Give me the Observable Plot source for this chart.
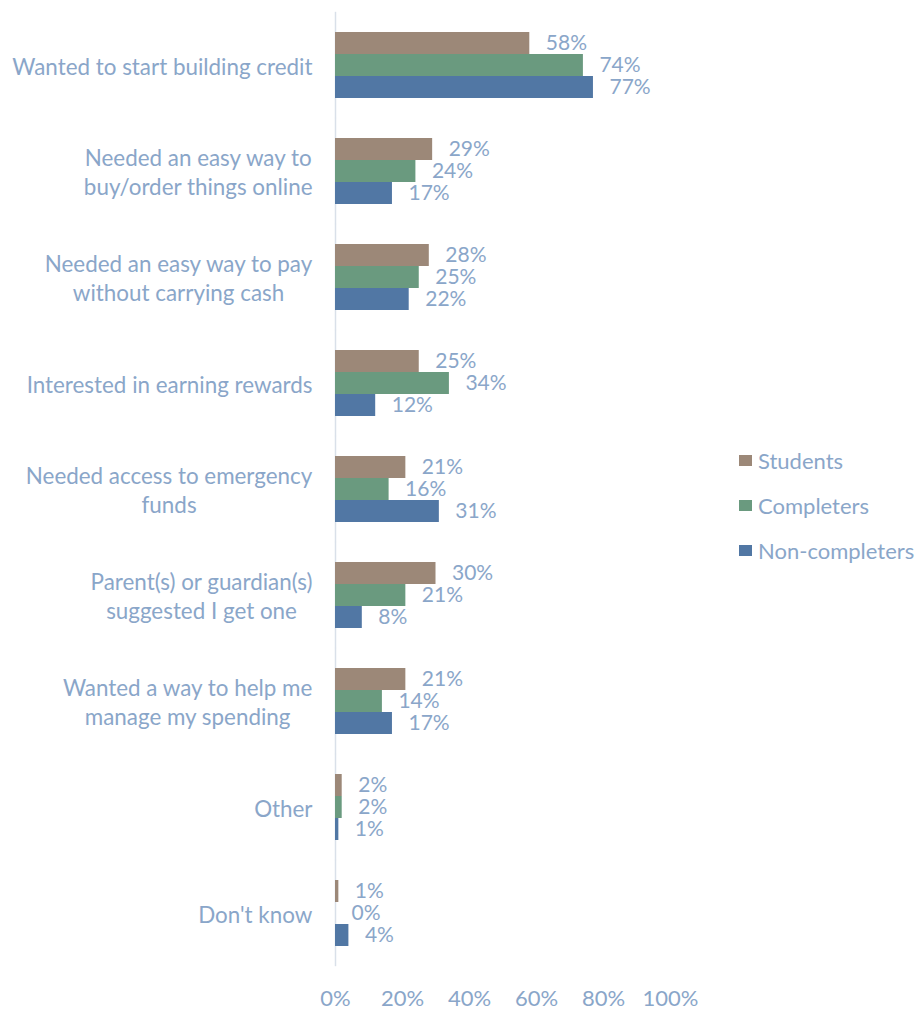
<!DOCTYPE html>
<html>
<head>
<meta charset="utf-8">
<script src="https://cdn.jsdelivr.net/npm/d3@7"></script>
<script src="https://cdn.jsdelivr.net/npm/@observablehq/plot@0.6"></script>
<style>
  body { margin: 0; background: #fff; }
  #wrap { position: relative; width: 919px; height: 1011px; font-family: Lato, "Open Sans", sans-serif; }
  #legend { position: absolute; left: 739px; top: 438px; color: #8aa6c9; font-size: 22px; }
  #legend .row { display: flex; align-items: center; height: 45px; line-height: 28px; }
  #legend .sw { width: 13px; height: 11px; margin-right: 6px; }
</style>
</head>
<body>
<div id="wrap"><div id="legend"></div></div>
<script>
const categories = [
  "Wanted to start building credit",
  "Needed an easy way to buy/order things online",
  "Needed an easy way to pay without carrying cash",
  "Interested in earning rewards",
  "Needed access to emergency funds",
  "Parent(s) or guardian(s) suggested I get one",
  "Wanted a way to help me manage my spending",
  "Other",
  "Don't know"
];
const categoryLabels = [
  "Wanted to start building credit",
  "Needed an easy way to\nbuy/order things online",
  "Needed an easy way to pay\nwithout carrying cash",
  "Interested in earning rewards",
  "Needed access to emergency\nfunds",
  "Parent(s) or guardian(s)\nsuggested I get one",
  "Wanted a way to help me\nmanage my spending",
  "Other",
  "Don't know"
];
const series = ["Students", "Completers", "Non-completers"];
const students      = [58, 29, 28, 25, 21, 30, 21, 2, 1];
const completers    = [74, 24, 25, 34, 16, 21, 14, 2, 0];
const nonCompleters = [77, 17, 22, 12, 31, 8, 17, 1, 4];
const seriesColors = ["#9c8878", "#6a9a7f", "#5177a4"];
const xTicks = [0, 20, 40, 60, 80, 100];

const textColor = "#8aa6c9";
const seriesValues = [students, completers, nonCompleters];
const data = categories.flatMap((c, i) =>
  series.map((s, j) => ({category: c, series: s, value: seriesValues[j][i]}))
);
const catData = categories.map((c, i) => ({category: c, label: categoryLabels[i]}));

const chart = Plot.plot({
  width: 919,
  height: 1011,
  marginLeft: 335,
  marginRight: 249,
  marginTop: 10,
  marginBottom: 43,
  style: {fontFamily: "Lato, 'Open Sans', sans-serif", fontSize: "22px", color: textColor, background: "white"},
  x: {domain: [0, 100], ticks: xTicks, tickFormat: d => d + "%", tickSize: 0, tickPadding: 44, label: null},
  y: {domain: series, axis: null, padding: 0},
  fy: {domain: categories, axis: null, paddingInner: 0.38, paddingOuter: 0.19, label: null},
  color: {domain: series, range: seriesColors},
  marks: [
    Plot.ruleX([0], {stroke: "#d9e0e9", strokeWidth: 1.5, insetTop: -20.2, insetBottom: -20.2}),
    Plot.barX(data, {x: "value", y: "series", fy: "category", fill: "series"}),
    Plot.text(data, {x: "value", y: "series", fy: "category", text: d => d.value + "%", textAnchor: "start", dx: 16, fontSize: 21, fill: textColor}),
    Plot.text(catData, {fy: "category", text: "label", frameAnchor: "left", textAnchor: "end", dx: -23, fontSize: 22.4, lineHeight: 1.28, fill: textColor})
  ]
});

const wrap = document.getElementById("wrap");
wrap.insertBefore(chart, wrap.firstChild);

// center multi-line category labels within their block (right edge kept)
chart.querySelectorAll("text").forEach(t => {
  if (t.textContent.includes("%")) return;
  const w = t.getBBox().width;
  t.setAttribute("text-anchor", "middle");
  const tr = t.getAttribute("transform") || "";
  t.setAttribute("transform", tr + ` translate(${-w / 2},0)`);
});

const legend = document.getElementById("legend");
series.forEach((s, i) => {
  const row = document.createElement("div");
  row.className = "row";
  const sw = document.createElement("span");
  sw.className = "sw";
  sw.style.background = seriesColors[i];
  const lab = document.createElement("span");
  lab.textContent = s;
  row.appendChild(sw);
  row.appendChild(lab);
  legend.appendChild(row);
});
</script>
</body>
</html>
